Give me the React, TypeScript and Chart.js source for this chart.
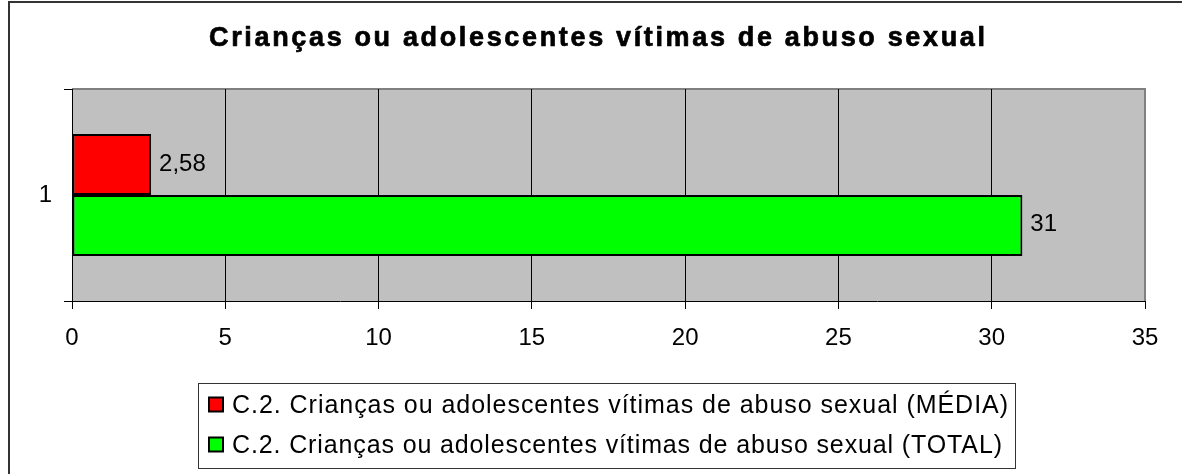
import React, { useEffect, useRef } from 'react';
import { Chart, registerables } from 'chart.js';

Chart.register(...registerables);

// ---- data ----
const TITLE = 'Crianças ou adolescentes vítimas de abuso sexual';
const CATEGORIES = ['1'];
const SERIES_LABELS = [
  'C.2. Crianças ou adolescentes vítimas de abuso sexual (MÉDIA)',
  'C.2. Crianças ou adolescentes vítimas de abuso sexual (TOTAL)',
];
const MEDIA_VALUES = [2.58];
const TOTAL_VALUES = [31];
const SERIES_COLORS = ['#FF0000', '#00FF00'];
const X_MIN = 0;
const X_MAX = 35;
const X_STEP = 5;

// ---- style ----
const FONT = '"Liberation Sans", Arial, Helvetica, sans-serif';
const W = 1182;
const H = 474;

const fmt = (v: number) => String(v).replace('.', ',');

const drawSpaced = (
  ctx: CanvasRenderingContext2D,
  text: string,
  x: number,
  y: number,
  targetWidth: number,
  strokeW = 0
) => {
  (ctx as any).letterSpacing = '0px';
  const w0 = ctx.measureText(text).width;
  const ls = Math.max(0, (targetWidth - w0) / Math.max(1, text.length - 1));
  (ctx as any).letterSpacing = ls + 'px';
  ctx.fillText(text, x, y);
  if (strokeW > 0) {
    ctx.strokeStyle = ctx.fillStyle as string;
    ctx.lineWidth = strokeW;
    ctx.lineJoin = 'round';
    ctx.strokeText(text, x, y);
  }
  (ctx as any).letterSpacing = '0px';
};

const decorPlugin = {
  id: 'decor',
  beforeDraw(chart: any) {
    const { ctx, chartArea: a } = chart;
    ctx.save();
    ctx.fillStyle = '#FFFFFF';
    ctx.fillRect(0, 0, chart.width, chart.height);
    // plot area
    ctx.fillStyle = '#C0C0C0';
    ctx.fillRect(a.left, a.top, a.right - a.left, a.bottom - a.top);
    ctx.strokeStyle = '#808080';
    ctx.lineWidth = 2;
    ctx.beginPath();
    ctx.moveTo(a.left, a.top);
    ctx.lineTo(a.right, a.top);
    ctx.lineTo(a.right, a.bottom);
    ctx.stroke();
    // outer frame (cropped at right/bottom)
    ctx.strokeStyle = '#333333';
    ctx.lineWidth = 2;
    ctx.beginPath();
    ctx.moveTo(9, chart.height);
    ctx.lineTo(9, 2);
    ctx.lineTo(chart.width, 2);
    ctx.stroke();
    // title
    ctx.fillStyle = '#000';
    ctx.font = `bold 27px ${FONT}`;
    ctx.textAlign = 'left';
    ctx.textBaseline = 'alphabetic';
    const tw = 776;
    drawSpaced(ctx, TITLE, 597 - tw / 2, 46, tw, 0.7);
    ctx.restore();
  },
  afterDatasetsDraw(chart: any) {
    const { ctx } = chart;
    ctx.save();
    ctx.fillStyle = '#000';
    ctx.font = `24px ${FONT}`;
    ctx.textAlign = 'left';
    ctx.textBaseline = 'alphabetic';
    chart.data.datasets.forEach((ds: any, i: number) => {
      const meta = chart.getDatasetMeta(i);
      meta.data.forEach((bar: any, j: number) => {
        ctx.fillText(fmt(ds.data[j]), bar.x + 8, bar.y + 6);
      });
    });
    ctx.restore();
  },
  afterDraw(chart: any) {
    const { ctx } = chart;
    ctx.save();
    const boxL = 198, boxT = 383, boxW = 817, boxH = 85;
    ctx.strokeStyle = '#333333';
    ctx.lineWidth = 1;
    ctx.strokeRect(boxL + 0.5, boxT + 0.5, boxW, boxH);
    const rowCenters = [404.5, 444.5];
    ctx.font = `25px ${FONT}`;
    ctx.textAlign = 'left';
    ctx.textBaseline = 'alphabetic';
    chart.data.datasets.forEach((ds: any, i: number) => {
      const c = rowCenters[i];
      ctx.fillStyle = ds.backgroundColor;
      ctx.fillRect(209, c - 7, 14, 14);
      ctx.strokeStyle = '#000';
      ctx.lineWidth = 2;
      ctx.strokeRect(209, c - 7, 14, 14);
      ctx.fillStyle = '#000';
      drawSpaced(ctx, ds.label, 232, c + 8, i === 0 ? 776 : 770);
    });
    ctx.restore();
  },
};

export default function App() {
  const canvasRef = useRef<HTMLCanvasElement | null>(null);

  useEffect(() => {
    if (!canvasRef.current) return;
    const chart = new Chart(canvasRef.current, {
      type: 'bar',
      data: {
        labels: CATEGORIES,
        datasets: [
          {
            label: SERIES_LABELS[0],
            data: MEDIA_VALUES,
            backgroundColor: SERIES_COLORS[0],
            borderColor: '#000000',
            borderWidth: 2,
            borderSkipped: false,
            categoryPercentage: 0.575,
            barPercentage: 1,
          },
          {
            label: SERIES_LABELS[1],
            data: TOTAL_VALUES,
            backgroundColor: SERIES_COLORS[1],
            borderColor: '#000000',
            borderWidth: 2,
            borderSkipped: false,
            categoryPercentage: 0.575,
            barPercentage: 1,
          },
        ],
      },
      options: {
        indexAxis: 'y',
        responsive: false,
        animation: false,
        devicePixelRatio: 1,
        layout: { padding: { top: 89, right: 37, left: 0, bottom: 0 } },
        plugins: {
          legend: { display: false },
          title: { display: false },
          tooltip: { enabled: false },
        },
        scales: {
          x: {
            type: 'linear',
            min: X_MIN,
            max: X_MAX,
            ticks: {
              stepSize: X_STEP,
              color: '#000',
              font: { family: FONT, size: 24 },
              padding: 15,
            },
            grid: {
              color: (c: any) => (c.tick && c.tick.value === X_MAX ? '#808080' : '#000000'),
              tickColor: '#000000',
              tickLength: 8,
              lineWidth: 1,
            },
            border: { color: '#000000', width: 1 },
            afterFit: (s: any) => {
              s.height = 173;
            },
          },
          y: {
            type: 'category',
            ticks: {
              color: '#000',
              font: { family: FONT, size: 24 },
              padding: 12,
            },
            grid: {
              drawOnChartArea: false,
              offset: true,
              tickLength: 8,
              color: '#000000',
            },
            border: { color: '#000000', width: 1 },
            afterFit: (s: any) => {
              s.width = 72;
            },
          },
        },
      },
      plugins: [decorPlugin],
    } as any);
    return () => chart.destroy();
  }, []);

  return (
    <div style={{ position: 'absolute', left: 0, top: 0, width: W, height: H, background: '#fff' }}>
      <canvas ref={canvasRef} width={W} height={H} style={{ display: 'block', width: W, height: H }} />
    </div>
  );
}
